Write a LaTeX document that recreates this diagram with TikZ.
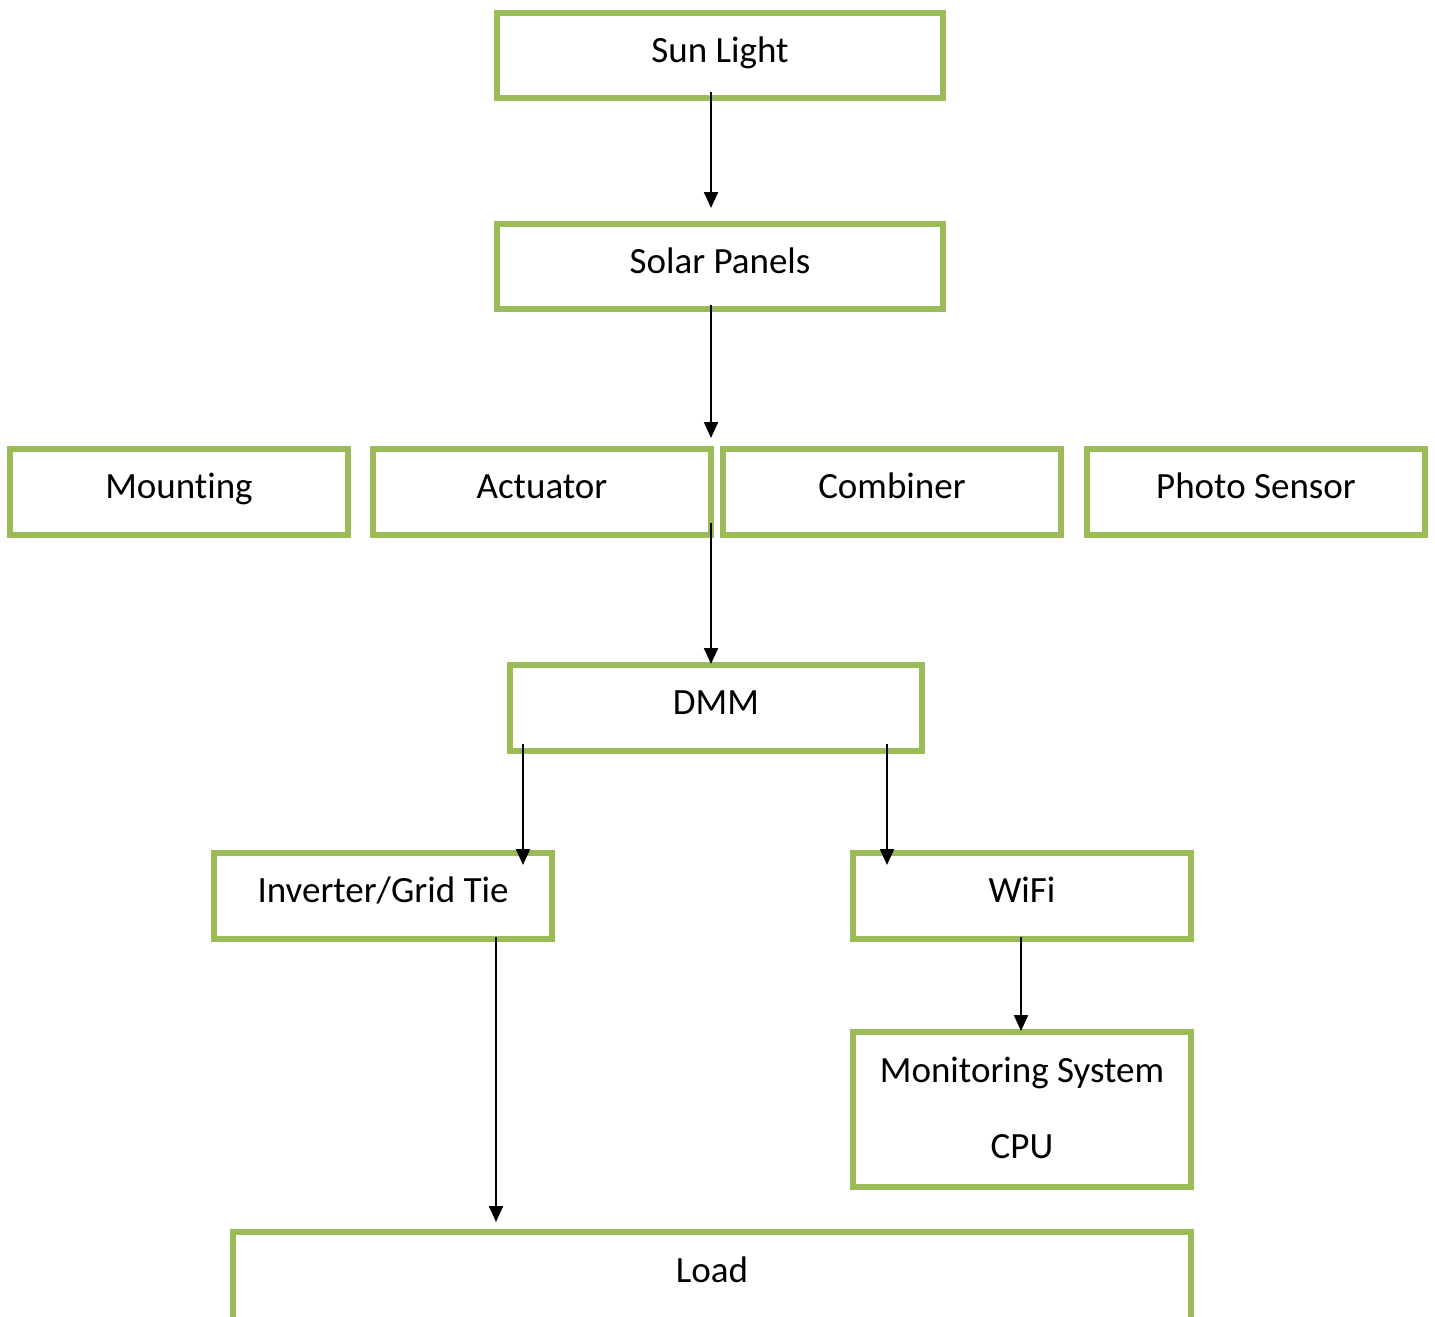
\documentclass[tikz,border=0pt]{standalone}
\usepackage{fontspec}
\setmainfont[Ligatures={NoCommon}]{Carlito}
\usetikzlibrary{arrows.meta}
\definecolor{boxgreen}{RGB}{155,187,89}
\begin{document}
\begin{tikzpicture}[x=1pt,y=-1pt,
  box/.style={draw=boxgreen, line width=6pt, inner sep=0pt, outer sep=0pt, rectangle},
  lbl/.style={font=\fontsize{37}{44}\selectfont, anchor=base, inner sep=0pt},
  arr/.style={line width=2.2pt, -{Triangle[width=14pt,length=16pt]}}]
\useasboundingbox (0,0) rectangle (1435,1317);

% boxes
\node[box, minimum width=446, minimum height=85] (sun)   at (720,55.5) {};
\node[box, minimum width=446, minimum height=85] (solar) at (720,266.5) {};
\node[box, minimum width=338, minimum height=86] (mount) at (179,492) {};
\node[box, minimum width=338, minimum height=86] (act)   at (542,492) {};
\node[box, minimum width=338, minimum height=86] (comb)  at (892,492) {};
\node[box, minimum width=338, minimum height=86] (photo) at (1256,492) {};
\node[box, minimum width=412, minimum height=86] (dmm)   at (716,708) {};
\node[box, minimum width=338, minimum height=86] (inv)   at (383,896) {};
\node[box, minimum width=338, minimum height=86] (wifi)  at (1022,896) {};
\node[box, minimum width=338, minimum height=155] (mon)  at (1022,1109.5) {};
\node[box, minimum width=958, minimum height=100] (load) at (712,1282) {};

% labels
\node[lbl] (sunT)   at (720,62)  {Sun Light};
\node[lbl] (solarT) at (720,273) {Solar Panels};
\node[lbl] (mountT) at (179,498) {Mounting};
\node[lbl] (actT)   at (542,498) {Actuator};
\node[lbl] (combT)  at (892,498) {Combiner};
\node[lbl] (photoT) at (1256,498) {Photo Sensor};
\node[lbl] (dmmT)   at (716,714) {DMM};
\node[lbl] (invT)   at (383,902) {Inverter/Grid Tie};
\node[lbl] (wifiT)  at (1022,902) {WiFi};
\node[lbl] (monT)   at (1022,1082) {Monitoring System};
\node[lbl] (cpuT)   at (1022,1158) {CPU};
\node[lbl] (loadT)  at (712,1282) {Load};

% connectors
\draw[arr] ([shift={(-9,-6)}]sun.south) -- ([shift={(-9,-16)}]solar.north);
\draw[arr] ([shift={(-9,-4)}]solar.south) -- ([shift={(0,-11)}]act.north east);
\draw[arr] ([shift={(0,-12)}]act.south east) -- ([shift={(-5,-1)}]dmm.north);
\draw[arr] ([shift={(13,-7)}]dmm.south west) -- ([shift={(-29,12)}]inv.north east);
\draw[arr] ([shift={(-35,-7)}]dmm.south east) -- ([shift={(34,12)}]wifi.north west);
\draw[arr] ([shift={(-1,-2)}]wifi.south) -- ([shift={(-1,-1)}]mon.north);
\draw[arr] ([shift={(113,-2)}]inv.south) -- ([shift={(-216,-10)}]load.north);
\end{tikzpicture}
\end{document}
